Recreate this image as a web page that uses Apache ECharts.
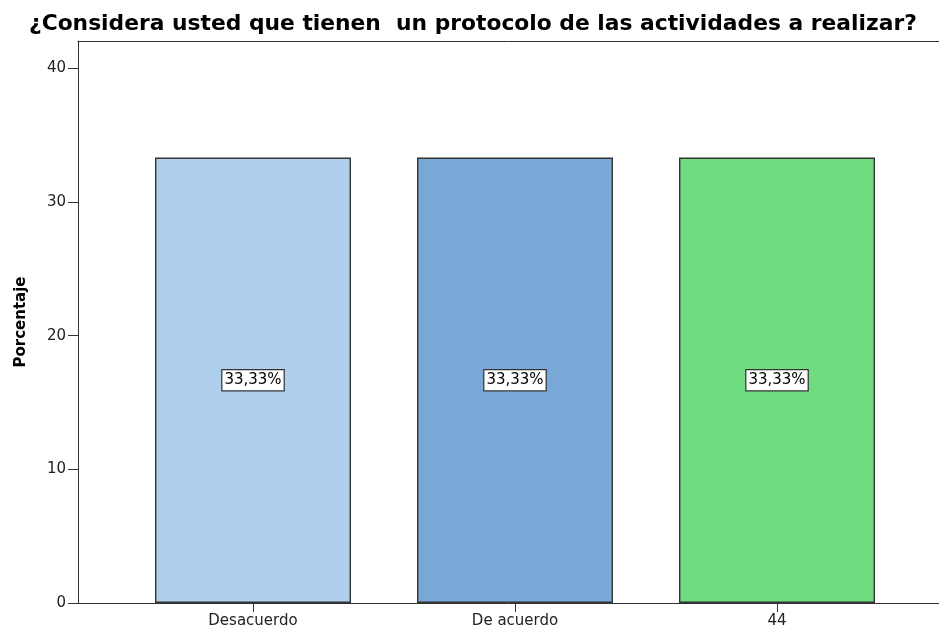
<!DOCTYPE html>
<html><head><meta charset="utf-8">
<script src="https://cdn.jsdelivr.net/npm/echarts@6/dist/echarts.min.js"></script>
<style>html,body{margin:0;padding:0;background:#fff}#c{width:939px;height:631px}</style>
</head><body><div id="c"></div>
<script>
const titleText = '¿Considera usted que tienen  un protocolo de las actividades a realizar?';
const categories = ['Desacuerdo', 'De acuerdo', '44'];
const values = [33.33, 33.33, 33.33];
const barColors = ['#aecfee', '#7aa8d6', '#6fdc82'];
const yTicks = [0, 10, 20, 30, 40];
const yName = 'Porcentaje';

const FONT = 'DejaVu Sans';
const chart = echarts.init(document.getElementById('c'));
const yMax = 42.05;
const frameLine = { show: true, lineStyle: { color: '#333', width: 1 } };
chart.setOption({
  animation: false,
  title: { text: titleText, left: 24, top: 8,
    textStyle: { fontFamily: FONT, fontWeight: 'bold', fontSize: 21.8, color: '#000' } },
  grid: [
    { left: 78, right: 0, top: 41, bottom: 28 },
    { left: 122, right: 31, top: 41, bottom: 28 }
  ],
  xAxis: [
    { gridIndex: 0, type: 'value', min: 0, max: 1, position: 'bottom',
      axisLine: frameLine, axisTick: { show: false }, axisLabel: { show: false }, splitLine: { show: false } },
    { gridIndex: 0, type: 'value', min: 0, max: 1, position: 'top',
      axisLine: frameLine, axisTick: { show: false }, axisLabel: { show: false }, splitLine: { show: false } },
    { gridIndex: 1, type: 'category', data: categories,
      axisLine: { show: false },
      axisTick: { show: true, alignWithLabel: true, length: 9, lineStyle: { color: '#333' } },
      axisLabel: { color: '#222', fontSize: 15, fontFamily: FONT, margin: 11 } }
  ],
  yAxis: [
    { gridIndex: 0, type: 'value', min: 0, max: yMax, interval: 10,
      name: yName, nameLocation: 'middle', nameGap: 49, nameRotate: 90,
      nameTextStyle: { fontFamily: FONT, fontWeight: 'bold', fontSize: 15, color: '#000' },
      axisLine: frameLine,
      axisTick: { show: true, length: 10, lineStyle: { color: '#333' } },
      axisLabel: { color: '#222', fontSize: 15, fontFamily: FONT, margin: 12,
        showMaxLabel: false,
        formatter: v => yTicks.includes(v) ? String(v) : '' },
      splitLine: { show: false } },
    { gridIndex: 1, type: 'value', min: 0, max: yMax, show: false }
  ],
  series: [{
    type: 'bar', xAxisIndex: 2, yAxisIndex: 1,
    barWidth: 196,
    data: values.map((v, i) => ({ value: v, itemStyle: { color: barColors[i] } })),
    itemStyle: { borderColor: '#333', borderWidth: 1.4 },
    label: { show: true, position: 'inside',
      formatter: p => p.value.toFixed(2).replace('.', ',') + '%',
      color: '#000', fontSize: 15, fontFamily: FONT,
      backgroundColor: '#fff', borderColor: '#333', borderWidth: 1.2,
      padding: [3, 2, 2, 2] }
  }]
});
</script></body></html>
